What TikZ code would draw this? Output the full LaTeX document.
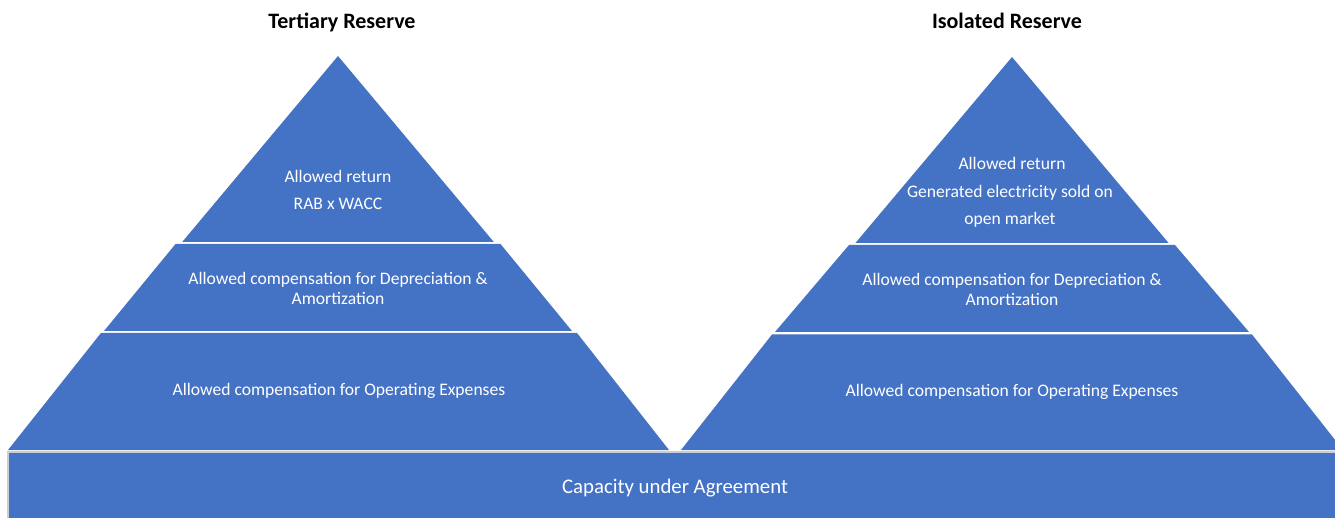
\documentclass[tikz,border=0pt]{standalone}
\usepackage{fontspec}
\setmainfont{Carlito}
\definecolor{pblue}{HTML}{4472C4}
\definecolor{bargray}{HTML}{C9CDD4}
\begin{document}
\begin{tikzpicture}[x=1pt,y=-1pt,
  layer/.style={fill=pblue,draw=none},
  txt/.style={text=white,font=\fontsize{17.6}{20}\selectfont,align=center,inner sep=0pt},
  title/.style={text=black,font=\fontsize{22}{24}\selectfont\bfseries,inner sep=0pt,anchor=base},
  bartxt/.style={text=white,font=\fontsize{20.8}{24}\selectfont,inner sep=0pt}]
\useasboundingbox (0,0) rectangle (1335,518);
\begin{scope}
\clip (0,0) rectangle (1335,518);
% left pyramid
\fill[layer] (338,56) -- (182.2,242) -- (493.8,242) -- cycle;
\fill[layer] (175.5,244) -- (500.5,244) -- (572,331) -- (104,331) -- cycle;
\fill[layer] (101,333) -- (577,333) -- (669,450) -- (8,450) -- cycle;
% right pyramid
\fill[layer] (1012,57) -- (855.4,243) -- (1168.6,243) -- cycle;
\fill[layer] (849,245) -- (1175,245) -- (1249,332) -- (775,332) -- cycle;
\fill[layer] (772,334.5) -- (1252,334.5) -- (1343,450) -- (681,450) -- cycle;
% base bar
\fill[pblue] (8,451) rectangle (1335,518);
\draw[bargray,line width=1.8pt] (8,518) -- (8,451.8) -- (1336,451.8);
\end{scope}
% titles
\node[title] (t1) at (342,29) {Tertiary Reserve};
\node[title] (t2) at (1007,29) {Isolated Reserve};
% left texts
\node[txt] (l1) at (338,176) {Allowed return};
\node[txt] (l2) at (338,204) {RAB x WACC};
\node[txt] (l3) at (338,288) {Allowed compensation for Depreciation \&\\Amortization};
\node[txt] (l4) at (339,391) {Allowed compensation for Operating Expenses};
% right texts
\node[txt] (r1) at (1012,163) {Allowed return};
\node[txt] (r2) at (1010,206) {Generated electricity sold on\\[7pt]open market};
\node[txt] (r3) at (1012,289) {Allowed compensation for Depreciation \&\\Amortization};
\node[txt] (r4) at (1012,392) {Allowed compensation for Operating Expenses};
% bar text
\node[bartxt] (b) at (675,488) {Capacity under Agreement};
\end{tikzpicture}
\end{document}
